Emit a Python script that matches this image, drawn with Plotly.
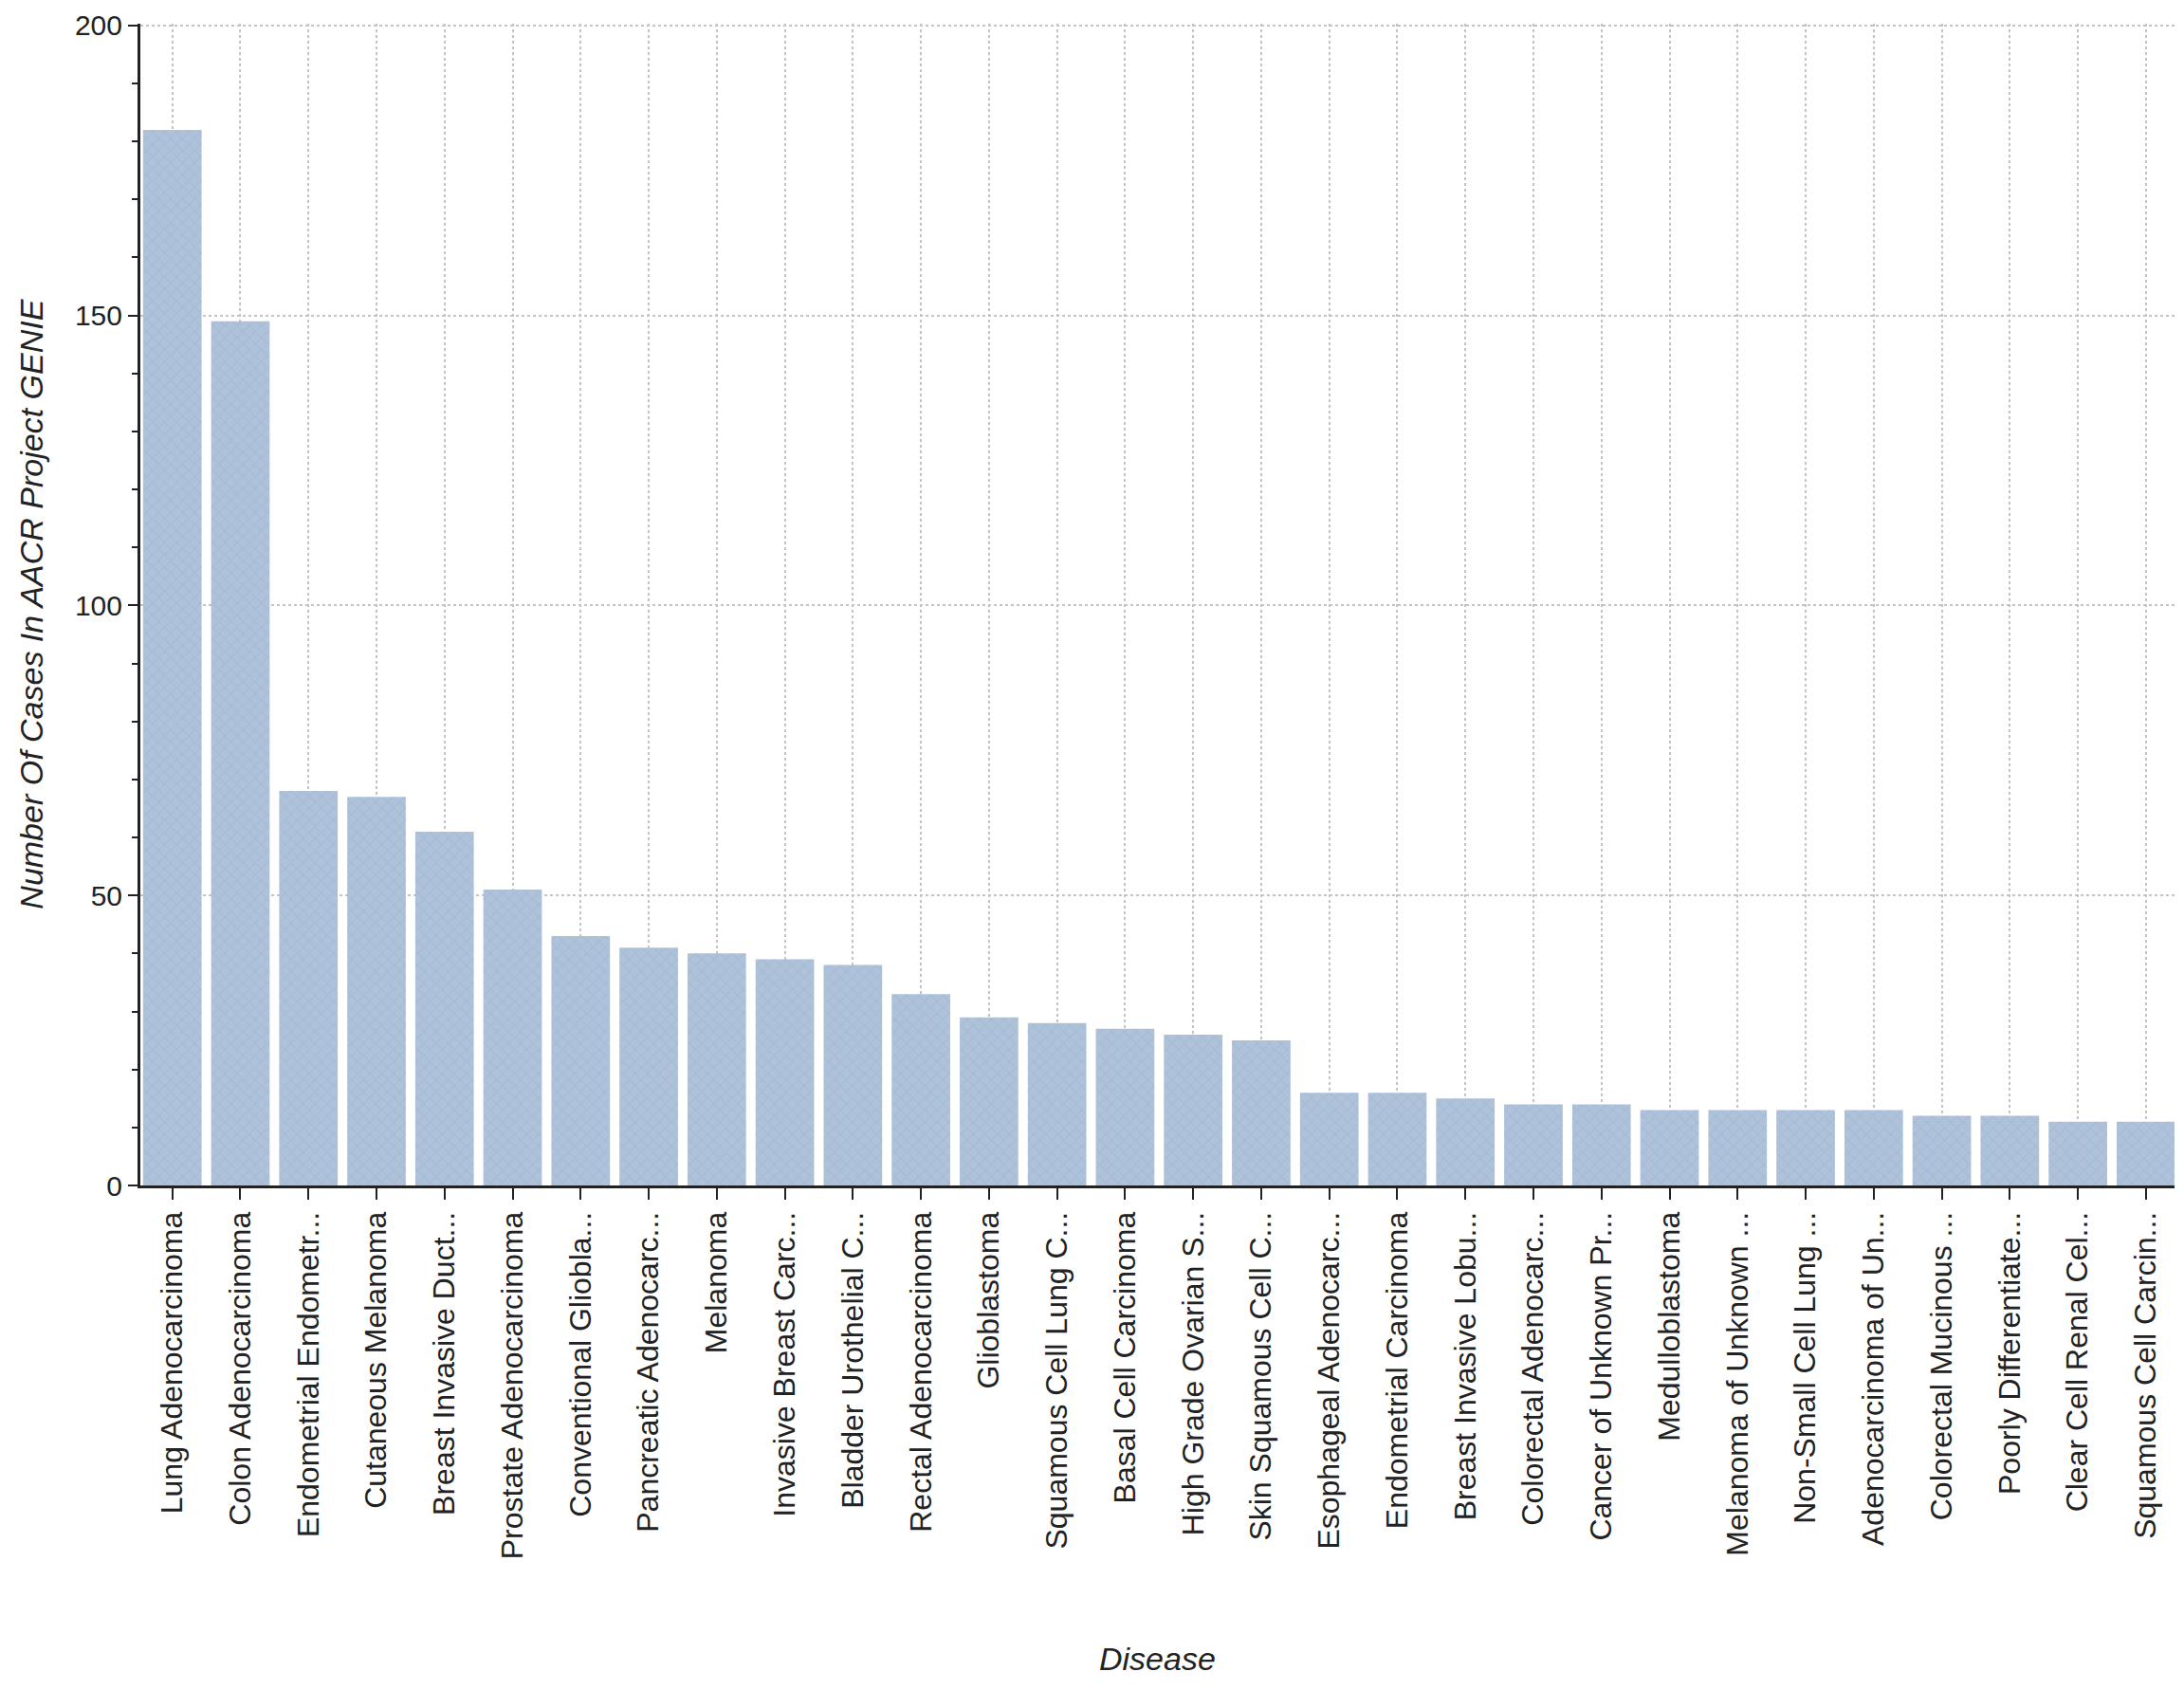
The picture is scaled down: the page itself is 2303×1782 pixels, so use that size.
import plotly.graph_objects as go

diseases = [
    "Lung Adenocarcinoma", "Colon Adenocarcinoma", "Endometrial Endometr...",
    "Cutaneous Melanoma", "Breast Invasive Duct...", "Prostate Adenocarcinoma",
    "Conventional Gliobla...", "Pancreatic Adenocarc...", "Melanoma",
    "Invasive Breast Carc...", "Bladder Urothelial C...", "Rectal Adenocarcinoma",
    "Glioblastoma", "Squamous Cell Lung C...", "Basal Cell Carcinoma",
    "High Grade Ovarian S...", "Skin Squamous Cell C...", "Esophageal Adenocarc...",
    "Endometrial Carcinoma", "Breast Invasive Lobu...", "Colorectal Adenocarc...",
    "Cancer of Unknown Pr...", "Medulloblastoma", "Melanoma of Unknown ...",
    "Non-Small Cell Lung ...", "Adenocarcinoma of Un...", "Colorectal Mucinous ...",
    "Poorly Differentiate...", "Clear Cell Renal Cel...", "Squamous Cell Carcin...",
]
cases = [182, 149, 68, 67, 61, 51, 43, 41, 40, 39, 38, 33, 29, 28, 27,
         26, 25, 16, 16, 15, 14, 14, 13, 13, 13, 13, 12, 12, 11, 11]

font = "Liberation Sans, Arial, sans-serif"

fig = go.Figure(
    go.Bar(
        x=diseases,
        y=cases,
        marker=dict(
            color="#aabed8",
            line=dict(width=0),
            pattern=dict(shape="x", fgcolor="#9db2cc", bgcolor="#aec2da",
                         size=9, solidity=0.25),
        ),
    )
)

# page body adds ~8px offset, margins compensate for it
fig.update_layout(
    width=2303,
    height=1782,
    plot_bgcolor="white",
    paper_bgcolor="white",
    bargap=0.14,
    showlegend=False,
    margin=dict(l=140, r=18, t=17, b=540),
    font=dict(family=font, color="#222222"),
    xaxis=dict(
        automargin=False,
        range=[-0.47, 29.42],
        tickangle=-90,
        tickfont=dict(size=32, family=font, color="#222222"),
        showline=True,
        linecolor="#222222",
        linewidth=3,
        ticks="outside",
        ticklen=12,
        tickwidth=2,
        tickcolor="#222222",
        showgrid=True,
        gridcolor="#c4c4c4",
        gridwidth=2,
        griddash="dot",
    ),
    yaxis=dict(
        automargin=False,
        range=[0, 200.3],
        tickvals=[0, 50, 100, 150, 200],
        ticklabeloverflow="allow",
        tickfont=dict(size=30, family=font, color="#222222"),
        showline=True,
        linecolor="#222222",
        linewidth=3,
        ticks="outside",
        ticklen=10,
        tickwidth=2,
        tickcolor="#222222",
        minor=dict(dtick=10, ticks="outside", ticklen=6, tickwidth=2,
                   tickcolor="#222222", showgrid=False),
        showgrid=True,
        gridcolor="#c4c4c4",
        gridwidth=2,
        griddash="dot",
        zeroline=False,
    ),
    annotations=[
        dict(
            text="<i>Number Of Cases In AACR Project GENIE</i>",
            xref="paper", yref="paper", x=-0.054, y=0.5,
            xanchor="center", yanchor="middle", textangle=-90,
            showarrow=False, font=dict(size=34, family=font, color="#222222"),
        ),
        dict(
            text="<i>Disease</i>",
            xref="paper", yref="paper", x=0.5, y=-0.407,
            xanchor="center", yanchor="middle",
            showarrow=False, font=dict(size=34, family=font, color="#222222"),
        ),
    ],
)

fig.write_html("out.html")
